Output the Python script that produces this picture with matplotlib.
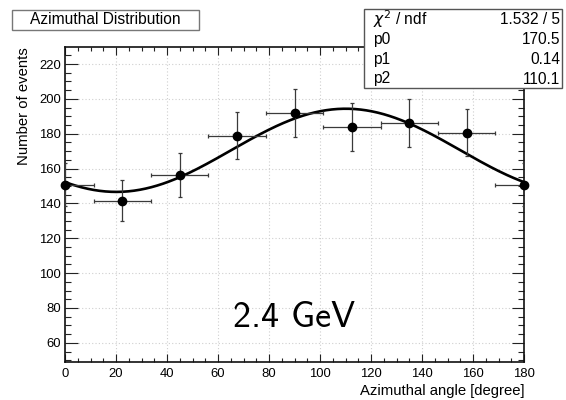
import os
import numpy as np
import matplotlib
matplotlib.use("Agg")
import matplotlib.pyplot as plt
from matplotlib.patches import Rectangle
from matplotlib.font_manager import FontProperties

plt.rcParams['font.family'] = ['Liberation Sans', 'DejaVu Sans']

# ---- data ----
angle = [0, 22.5, 45, 67.5, 90, 112.5, 135, 157.5, 180]
counts = [150.7, 141.6, 156.4, 178.9, 191.7, 183.9, 186.2, 180.6, 150.8]
count_err = [12.3, 11.9, 12.5, 13.4, 13.8, 13.6, 13.6, 13.4, 12.3]
angle_err = [11.25] * 9

# fit parameters shown in the stats box
p0, p1, p2 = 170.5, 0.14, 110.1
chi2_text = "1.532 / 5"
param_names = ["p0", "p1", "p2"]
param_values = ["170.5", "0.14", "110.1"]

xticks = [0, 20, 40, 60, 80, 100, 120, 140, 160, 180]
yticks = [60, 80, 100, 120, 140, 160, 180, 200, 220]

W, H = 566, 400
fig = plt.figure(figsize=(W / 100, H / 100), dpi=100)
ax = fig.add_axes([65 / W, 1 - 362 / H, (524 - 65) / W, (362 - 47) / H])

ax.set_xlim(0, 180)
ax.set_ylim(49, 229.8)
ax.set_xticks(xticks)
ax.set_yticks(yticks)
ax.set_xticks(np.arange(0, 181, 5), minor=True)
ax.set_yticks(np.arange(50, 230, 5), minor=True)
ax.grid(True, which='major', color='#cfcfcf', linestyle=(0, (1, 2)), linewidth=0.8)
ax.set_axisbelow(True)

ax.tick_params(axis='x', which='major', direction='in', length=6, width=0.8,
               top=True, labelsize=9.4, pad=4, color='#222222')
ax.tick_params(axis='x', which='minor', direction='in', length=3, width=0.8,
               top=True, color='#222222')
ax.tick_params(axis='y', which='major', direction='in', length=9, width=0.8,
               right=True, labelsize=9.4, pad=3, color='#222222')
ax.tick_params(axis='y', which='minor', direction='in', length=4.5, width=0.8,
               right=True, color='#222222')
for s in ax.spines.values():
    s.set_linewidth(1.2)
    s.set_color('#111111')

# fit curve
xf = np.linspace(0, 180, 400)
yf = p0 * (1 + p1 * np.cos(np.radians(2 * (xf - p2))))
ax.plot(xf, yf, color='black', lw=1.9, zorder=3)

# data points
ax.errorbar(angle, counts, xerr=angle_err, yerr=count_err, fmt='none',
            ecolor='#3a3a3a', elinewidth=0.9, capsize=1.5, capthick=0.9, zorder=4)
ax.plot(angle, counts, 'o', color='black', ms=6, zorder=5, clip_on=False)

ax.set_ylabel("Number of events", fontsize=10.7, loc='top', labelpad=6)
ax.set_xlabel("Azimuthal angle [degree]", fontsize=10.7, loc='right', labelpad=3)

# 2.4 GeV label (Computer Modern Sans shipped with matplotlib)
cmss_path = os.path.join(matplotlib.get_data_path(), "fonts", "ttf", "cmss10.ttf")
if os.path.exists(cmss_path):
    gev_font = FontProperties(fname=cmss_path, size=26)
else:
    gev_font = FontProperties(family='Open Sans', size=24)
ax.text(90, 69.2, "2.4 GeV", fontproperties=gev_font,
        ha='center', va='baseline', zorder=6)

# title box
fig.patches.append(Rectangle((12 / W, 1 - 30 / H), (199 - 12) / W, 20 / H,
                             transform=fig.transFigure, facecolor='white',
                             edgecolor='#777777', lw=1, zorder=10))
fig.text(105 / W, 1 - 20 / H, "Azimuthal Distribution", fontsize=11.2,
         ha='center', va='center', zorder=11)

# stats box
fig.patches.append(Rectangle((364 / W, 1 - 88 / H), (562 - 364) / W, (88 - 9) / H,
                             transform=fig.transFigure, facecolor='white',
                             edgecolor='#555555', lw=1, zorder=10))
rows_left = [r"$\chi^2$ / ndf"] + param_names
rows_right = [chi2_text] + param_values
row_y = [19.5, 39.5, 59.5, 79]
for yl, tl, tr in zip(row_y, rows_left, rows_right):
    fig.text(373 / W, 1 - yl / H, tl, fontsize=11.2, ha='left', va='center', zorder=11,
             math_fontfamily='dejavusans')
    fig.text(560 / W, 1 - yl / H, tr, fontsize=11.2, ha='right', va='center', zorder=11)

fig.savefig("out.png", dpi=100)
